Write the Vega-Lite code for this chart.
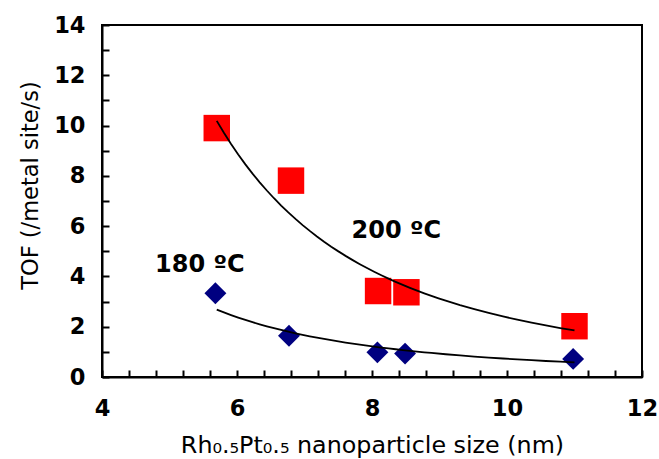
{
  "$schema": "https://vega.github.io/schema/vega-lite/v6.json",
  "width": 540,
  "height": 352,
  "autosize": "none",
  "padding": {"left": 102, "top": 25, "right": 17, "bottom": 82},
  "background": "white",
  "config": {
    "font": "DejaVu Sans",
    "view": {"stroke": "black", "strokeWidth": 2},
    "axis": {
      "grid": false,
      "domainColor": "black",
      "domainWidth": 2,
      "tickColor": "black",
      "tickWidth": 2,
      "tickSize": -7,
      "labelFont": "DejaVu Sans",
      "labelFontSize": 22.5,
      "labelFontWeight": "bold",
      "labelColor": "black",
      "labelFlush": false,
      "labelOverlap": false,
      "titleFont": "DejaVu Sans",
      "titleFontWeight": "normal",
      "titleColor": "black"
    }
  },
  "datasets": {
    "pts": [
      {"size": 5.70, "tof": 9.90, "temp": "200"},
      {"size": 6.80, "tof": 7.81, "temp": "200"},
      {"size": 8.09, "tof": 3.42, "temp": "200"},
      {"size": 8.51, "tof": 3.37, "temp": "200"},
      {"size": 11.0, "tof": 2.02, "temp": "200"},
      {"size": 5.68, "tof": 3.33, "temp": "180"},
      {"size": 6.77, "tof": 1.64, "temp": "180"},
      {"size": 8.08, "tof": 0.98, "temp": "180"},
      {"size": 8.49, "tof": 0.93, "temp": "180"},
      {"size": 10.98, "tof": 0.72, "temp": "180"}
    ],
    "labels": [
      {"size": 8.36, "tof": 5.81, "text": "200 ºC"},
      {"size": 5.45, "tof": 4.46, "text": "180 ºC"}
    ]
  },
  "encoding": {
    "x": {
      "field": "size",
      "type": "quantitative",
      "scale": {"domain": [4, 12], "nice": false, "zero": false},
      "axis": {
        "title": "Rh₀.₅Pt₀.₅ nanoparticle size (nm)",
        "titleFontSize": 23.8,
        "values": [4, 4.4, 4.8, 5.2, 5.6, 6, 6.4, 6.8, 7.2, 7.6, 8, 8.4, 8.8, 9.2, 9.6, 10, 10.4, 10.8, 11.2, 11.6, 12],
        "labelExpr": "abs(datum.value - round(datum.value / 2) * 2) < 0.01 ? format(datum.value, '.0f') : ''",
        "labelPadding": 27,
        "titlePadding": 14
      }
    },
    "y": {
      "field": "tof",
      "type": "quantitative",
      "scale": {"domain": [0, 14], "nice": false},
      "axis": {
        "title": "TOF (/metal site/s)",
        "titleFontSize": 22.5,
        "titleX": -72,
        "titleY": 160,
        "titleAngle": -90,
        "titleAlign": "center",
        "titleBaseline": "middle",
        "values": [0, 1, 2, 3, 4, 5, 6, 7, 8, 9, 10, 11, 12, 13, 14],
        "labelExpr": "datum.value % 2 === 0 ? format(datum.value, '.0f') : ''",
        "labelPadding": 24
      }
    }
  },
  "layer": [
    {
      "data": {"name": "pts"},
      "transform": [{"filter": "datum.temp === '200'"}],
      "mark": {"type": "point", "shape": "square", "filled": true, "opacity": 1, "size": 700, "color": "#ff0000"}
    },
    {
      "data": {"name": "pts"},
      "transform": [{"filter": "datum.temp === '180'"}],
      "mark": {"type": "point", "shape": "diamond", "filled": true, "opacity": 1, "size": 480, "color": "#000080"}
    },
    {
      "data": {"name": "pts"},
      "transform": [
        {"regression": "tof", "on": "size", "groupby": ["temp"], "method": "pow", "extent": [5.7, 11]}
      ],
      "mark": {"type": "line", "color": "black", "strokeWidth": 1.8},
      "encoding": {"detail": {"field": "temp"}}
    },
    {
      "data": {"name": "labels"},
      "mark": {"type": "text", "fontSize": 24, "fontWeight": "bold", "font": "DejaVu Sans", "color": "black", "align": "center", "baseline": "middle"},
      "encoding": {"text": {"field": "text"}}
    }
  ]
}
